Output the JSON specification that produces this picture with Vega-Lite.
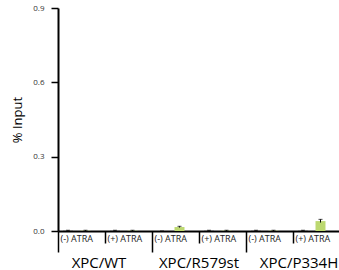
{
  "$schema": "https://vega.github.io/schema/vega-lite/v6.json",
  "width": 282,
  "height": 223,
  "autosize": {"type": "pad"},
  "padding": {"left": 11, "top": 4, "right": 0, "bottom": 0},
  "config": {"view": {"stroke": null}, "font": "Open Sans"},
  "data": {
    "values": [
      {"sub": "WT-", "geno": "XPC/WT", "series": "a", "value": 0.001, "lo": 0.0, "hi": 0.003},
      {"sub": "WT-", "geno": "XPC/WT", "series": "b", "value": 0.001, "lo": 0.0, "hi": 0.003},
      {"sub": "WT+", "geno": "XPC/WT", "series": "a", "value": 0.001, "lo": 0.0, "hi": 0.003},
      {"sub": "WT+", "geno": "XPC/WT", "series": "b", "value": 0.001, "lo": 0.0, "hi": 0.003},
      {"sub": "R-", "geno": "XPC/R579st", "series": "a", "value": 0.0, "lo": 0.0, "hi": 0.0},
      {"sub": "R-", "geno": "XPC/R579st", "series": "b", "value": 0.016, "lo": 0.014, "hi": 0.019},
      {"sub": "R+", "geno": "XPC/R579st", "series": "a", "value": 0.001, "lo": 0.0, "hi": 0.003},
      {"sub": "R+", "geno": "XPC/R579st", "series": "b", "value": 0.001, "lo": 0.0, "hi": 0.003},
      {"sub": "P-", "geno": "XPC/P334H", "series": "a", "value": 0.001, "lo": 0.0, "hi": 0.003},
      {"sub": "P-", "geno": "XPC/P334H", "series": "b", "value": 0.001, "lo": 0.0, "hi": 0.003},
      {"sub": "P+", "geno": "XPC/P334H", "series": "a", "value": 0.001, "lo": 0.0, "hi": 0.003},
      {"sub": "P+", "geno": "XPC/P334H", "series": "b", "value": 0.04, "lo": 0.034, "hi": 0.047}
    ]
  },
  "layer": [
    {
      "encoding": {
        "x": {
          "field": "sub",
          "type": "nominal",
          "sort": ["WT-", "WT+", "R-", "R+", "P-", "P+"],
          "scale": {"paddingInner": 0, "paddingOuter": 0},
          "axis": {
            "title": null,
            "labelExpr": "indexof(datum.value, '-') >= 0 ? '(-) ATRA' : '(+) ATRA'",
            "labelAlign": "left",
            "labelBaseline": "top",
            "labelOffset": -21,
            "labelFontSize": 9,
            "labelColor": "#222",
            "labelPadding": 3,
            "labelAngle": 0,
            "ticks": false,
            "domainColor": "black",
            "domainWidth": 2
          }
        },
        "xOffset": {
          "field": "series",
          "type": "nominal",
          "scale": {"paddingInner": 0.43, "paddingOuter": 0.557, "align": 0.256}
        }
      },
      "layer": [
        {
          "mark": {"type": "bar"},
          "encoding": {
            "y": {
              "field": "value",
              "type": "quantitative",
              "scale": {"domain": [0, 0.9], "nice": false},
              "axis": {
                "title": "% Input",
                "values": [0, 0.3, 0.6, 0.9],
                "format": ".1f",
                "grid": false,
                "tickSize": 7,
                "tickColor": "black",
                "tickWidth": 1.5,
                "domainColor": "black",
                "domainWidth": 2,
                "labelFontSize": 8,
                "labelColor": "#333",
                "labelPadding": 7,
                "titleFontSize": 13,
                "titleFontWeight": "normal",
                "titleColor": "black",
                "titlePadding": 8
              }
            },
            "color": {
              "field": "series",
              "type": "nominal",
              "scale": {"domain": ["a", "b"], "range": ["#333333", "#bcd870"]},
              "legend": null
            }
          }
        },
        {
          "mark": {"type": "rule", "color": "black", "strokeWidth": 1},
          "encoding": {
            "y": {"field": "lo", "type": "quantitative"},
            "y2": {"field": "hi"}
          }
        },
        {
          "mark": {"type": "tick", "color": "black", "thickness": 1, "size": 4},
          "encoding": {
            "y": {"field": "hi", "type": "quantitative"}
          }
        }
      ]
    },
    {
      "mark": {"type": "bar", "opacity": 0},
      "encoding": {
        "x": {
          "field": "geno",
          "type": "nominal",
          "sort": ["XPC/WT", "XPC/R579st", "XPC/P334H"],
          "scale": {"paddingInner": 0, "paddingOuter": 0},
          "axis": {
            "title": null,
            "orient": "bottom",
            "domain": false,
            "ticks": true,
            "tickSize": 12,
            "tickColor": "black",
            "tickWidth": 1.5,
            "labelAngle": 0,
            "labelFontSize": 15,
            "labelColor": "black",
            "labelPadding": 12,
            "labelBaseline": "top",
            "labelOffset": {
              "condition": [
                {"test": "datum.value == 'XPC/WT'", "value": -6},
                {"test": "datum.value == 'XPC/P334H'", "value": 6}
              ],
              "value": 0
            }
          }
        },
        "y": {"datum": 0, "type": "quantitative"}
      }
    },
    {
      "mark": {"type": "bar", "opacity": 0},
      "encoding": {
        "x": {
          "field": "geno",
          "type": "nominal",
          "sort": ["XPC/WT", "XPC/R579st", "XPC/P334H"],
          "scale": {"paddingInner": 0, "paddingOuter": 0},
          "axis": {
            "title": null,
            "orient": "bottom",
            "domain": false,
            "ticks": true,
            "bandPosition": 0,
            "tickSize": 21,
            "tickColor": "black",
            "tickWidth": 1.5,
            "labels": false
          }
        },
        "y": {"datum": 0, "type": "quantitative"}
      }
    }
  ],
  "resolve": {"scale": {"x": "independent"}, "axis": {"x": "independent"}}
}
